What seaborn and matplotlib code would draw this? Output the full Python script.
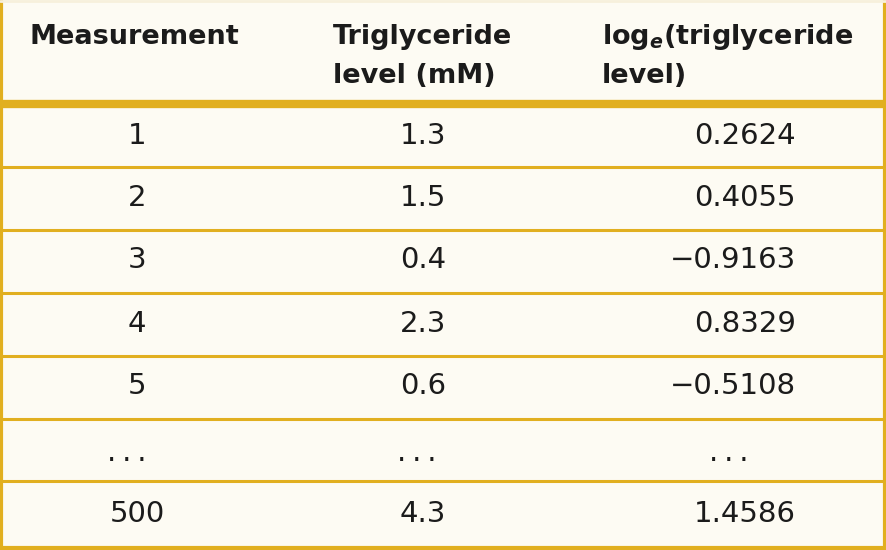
import matplotlib
matplotlib.use("Agg")
import matplotlib.pyplot as plt
import seaborn as sns

# table content
headers = [["Measurement"], ["Triglyceride", "level (mM)"], ["log$_{e}$(triglyceride", "level)"]]
dots = ".\u2009.\u2009."
measurement = ["1", "2", "3", "4", "5", dots, "500"]
trig_level = ["1.3", "1.5", "0.4", "2.3", "0.6", dots, "4.3"]
log_level = ["0.2624", "0.4055", "\u22120.9163", "0.8329", "\u22120.5108", dots, "1.4586"]

sns.set_style("white")
plt.rcParams["font.family"] = ["DejaVu Sans"]
plt.rcParams["mathtext.fontset"] = "custom"
plt.rcParams["mathtext.rm"] = "DejaVu Sans:bold"
plt.rcParams["mathtext.it"] = "DejaVu Sans:italic:bold"

gold = "#E1AF1F"
bg = "#FDFBF3"
ink = "#1b1b1b"

fig = plt.figure(figsize=(8.87, 5.5), dpi=100)
fig.patch.set_facecolor(bg)
ax = fig.add_axes([0, 0, 1, 1])
ax.set_xlim(0, 887)
ax.set_ylim(550, 0)
ax.set_axis_off()

# header, one baseline per line
hx = [30, 333, 602]
for x, h in zip(hx, headers):
    for k, line in enumerate(h):
        ax.text(x, 44 + 39 * k, line, fontsize=19.5, fontweight="bold", color=ink,
                ha="left", va="baseline")

# row lines
lines = [167, 230, 293, 356, 419, 481]
ax.axhline(104, color=gold, lw=6)
for y in lines:
    ax.axhline(y, color=gold, lw=2.2)
ax.axhline(548, color=gold, lw=3)
ax.axvline(1.5, color=gold, lw=3)
ax.axvline(885.5, color=gold, lw=3)
ax.axhline(0.5, color="#F7F0DC", lw=2)

edges = [107] + lines + [548]
for i in range(len(measurement)):
    is_dots = log_level[i] == dots
    yb = (edges[i] + edges[i + 1]) / 2 + (11 if is_dots else 7)
    ax.text(127 if is_dots else 137, yb, measurement[i], fontsize=21, color=ink, ha="center", va="baseline")
    ax.text(417 if is_dots else 423, yb, trig_level[i], fontsize=21, color=ink, ha="center", va="baseline")
    if is_dots:
        ax.text(729, yb, log_level[i], fontsize=21, color=ink, ha="center", va="baseline")
    else:
        ax.text(796, yb, log_level[i], fontsize=21, color=ink, ha="right", va="baseline")

fig.savefig("out.png", dpi=100, facecolor=bg)
